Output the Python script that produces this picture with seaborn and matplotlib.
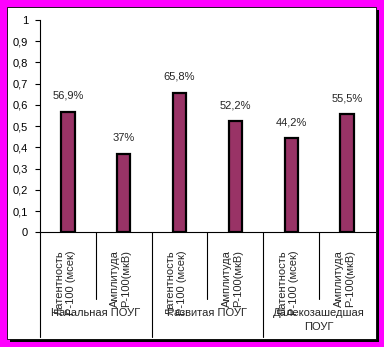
import matplotlib
matplotlib.use("Agg")
import matplotlib.pyplot as plt
from matplotlib.patches import Rectangle
from matplotlib.ticker import FuncFormatter, MultipleLocator
import matplotlib.transforms as mtransforms
import pandas as pd
import seaborn as sns

# Data: P-100 latency / amplitude by glaucoma stage
groups = ["Начальная ПОУГ", "Развитая ПОУГ", "Далекозашедшая\nПОУГ"]
measures = ["Латентность\nР-100 (мсек)", "Амплитуда\nР-100(мкВ)"]
values = [0.569, 0.37, 0.658, 0.522, 0.442, 0.555]

sns.set_style("white")
plt.rcParams["font.family"] = ["Liberation Sans", "DejaVu Sans"]

W, H = 384, 347
fig = plt.figure(figsize=(W / 100, H / 100), dpi=100)
fig.patch.set_facecolor("#FF00FF")

# white panel with a drop shadow
px, py = 1 / W, 1 / H
x0, y0, x1, y1 = 7, 7, 375.5, 339
fig.patches.append(Rectangle(((x0 + 3) * px, 1 - (y1 + 3) * py), (x1 - x0) * px, (y1 - y0) * py,
                             transform=fig.transFigure, facecolor="black", edgecolor="none", zorder=-2))
fig.patches.append(Rectangle((x0 * px, 1 - y1 * py), (x1 - x0) * px, (y1 - y0) * py,
                             transform=fig.transFigure, facecolor="white", edgecolor="black",
                             linewidth=0.6, zorder=-1))

ax = fig.add_axes([40 * px, 1 - 232.3 * py, (375 - 40) * px, (232.3 - 20) * py])
ax.set_zorder(1)
ax.set_facecolor("none")

cats = [f"{g}|{m}" for g in groups for m in measures]
df = pd.DataFrame({"cat": cats, "value": values})
sns.barplot(data=df, x="cat", y="value", color="#993366", saturation=1, width=0.24,
            edgecolor="black", linewidth=1.6, ax=ax)

ax.set_xlim(-0.5, len(cats) - 0.5)
ax.set_ylim(0, 1)
ax.yaxis.set_major_locator(MultipleLocator(0.1))
ax.yaxis.set_major_formatter(FuncFormatter(lambda v, _: f"{round(v, 1):g}".replace(".", ",")))
ax.tick_params(axis="y", direction="out", length=3.5, width=0.8, pad=5, labelsize=8,
               left=True, colors="black")
ax.set_xticks([])
ax.set_xlabel("")
ax.set_ylabel("")
for side in ["top", "right"]:
    ax.spines[side].set_visible(False)
for side in ["left", "bottom"]:
    ax.spines[side].set_color("black")
    ax.spines[side].set_linewidth(0.8)

# value labels above the bars
for i, v in enumerate(values):
    txt = f"{round(v * 100, 1):g}".replace(".", ",") + "%"
    ax.annotate(txt, (i, v), xytext=(0, 8), textcoords="offset points",
                ha="center", va="bottom", fontsize=8)

# two-level category axis below the plot
trans = mtransforms.blended_transform_factory(ax.transData, ax.transAxes)
ax_h = 232.3 - 20
for k in range(len(cats)):
    b = k - 0.5
    depth = 105 if k % 2 == 0 else 67
    ax.plot([b, b], [0, -depth / ax_h], transform=trans, color="black", lw=0.8, clip_on=False)
for i, c in enumerate(cats):
    m = c.split("|")[1]
    ax.text(i - 0.05, -18 / ax_h, m, transform=trans, rotation=90, ha="center", va="top",
            multialignment="right", fontsize=8, linespacing=1.15)
for gi, g in enumerate(groups):
    ax.text(2 * gi + 0.5, -76 / ax_h, g, transform=trans, ha="center", va="top",
            fontsize=8, linespacing=1.5)

fig.savefig("out.png", dpi=100, facecolor=fig.get_facecolor())
